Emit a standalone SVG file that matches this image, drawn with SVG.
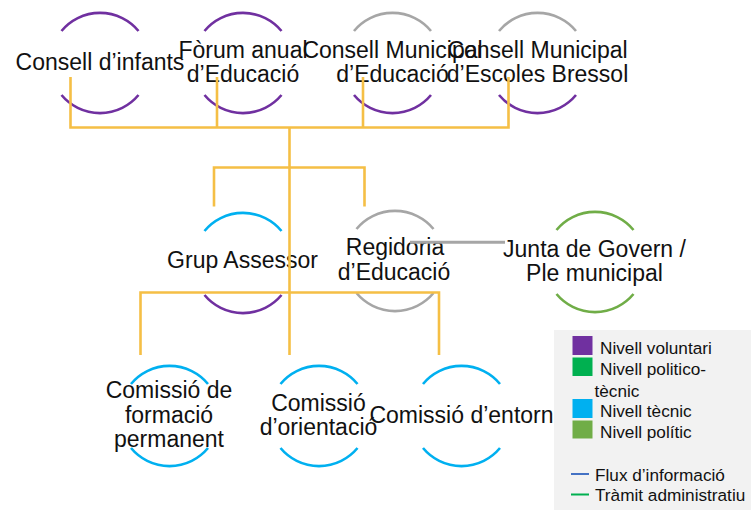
<svg xmlns="http://www.w3.org/2000/svg" width="751" height="510" viewBox="0 0 751 510">
<style>
.arc{fill:none;stroke-width:2.6}
.pu{stroke:#7030A0}.gr{stroke:#A6A6A6}.bl{stroke:#00B0F0}.gn{stroke:#70AD47}
.t{font-family:"Liberation Sans",Arial,sans-serif;font-size:23px;fill:#111;text-anchor:middle}
.lg{font-family:"Liberation Sans",Arial,sans-serif;font-size:17.2px;fill:#111}
.or{fill:none;stroke:#F5BF45;stroke-width:2.6}
</style>
<rect x="554" y="330" width="197" height="180" fill="#F2F2F2"/>
<g id="n-infants">
<path class="arc pu" d="M61.5 31 A50 50 0 0 1 138.5 31"/>
<path class="arc pu" d="M61.5 95 A50 50 0 0 0 138.5 95"/>
<text class="t" x="100" y="70">Consell d’infants</text>
</g>
<g id="n-forum">
<path class="arc pu" d="M204.5 31 A50 50 0 0 1 281.5 31"/>
<path class="arc pu" d="M204.5 95 A50 50 0 0 0 281.5 95"/>
<text class="t" x="243" y="58">Fòrum anual</text>
<text class="t" x="243" y="82">d’Educació</text>
</g>
<g id="n-cme">
<path class="arc gr" d="M354 31 A50 50 0 0 1 431 31"/>
<path class="arc pu" d="M354 95 A50 50 0 0 0 431 95"/>
<text class="t" x="392.5" y="58">Consell Municipal</text>
<text class="t" x="392.5" y="82">d’Educació</text>
</g>
<g id="n-cmeb">
<path class="arc gr" d="M499 31 A50 50 0 0 1 576 31"/>
<path class="arc pu" d="M499 95 A50 50 0 0 0 576 95"/>
<text class="t" x="537.5" y="58">Consell Municipal</text>
<text class="t" x="537.5" y="82">d’Escoles Bressol</text>
</g>
<g id="n-grup">
<path class="arc bl" d="M204.5 231 A50 50 0 0 1 281.5 231"/>
<path class="arc pu" d="M204.5 295 A50 50 0 0 0 281.5 295"/>
<text class="t" x="242.5" y="268">Grup Assessor</text>
</g>
<g id="n-regidoria">
<path class="arc gr" d="M356.5 229 A50 50 0 0 1 433.5 229"/>
<path class="arc gr" d="M356.5 293 A50 50 0 0 0 433.5 293"/>
<text class="t" x="395" y="255">Regidoria</text>
<text class="t" x="394" y="280">d’Educació</text>
</g>
<g id="n-junta">
<path class="arc gn" d="M556.5 230 A50 50 0 0 1 633.5 230"/>
<path class="arc gn" d="M556.5 294 A50 50 0 0 0 633.5 294"/>
<text class="t" x="594.5" y="257">Junta de Govern /</text>
<text class="t" x="594.5" y="281">Ple municipal</text>
</g>
<g id="n-formacio">
<path class="arc bl" d="M131 384 A50 50 0 0 1 208 384"/>
<path class="arc bl" d="M131 448 A50 50 0 0 0 208 448"/>
<text class="t" x="169" y="398">Comissió de</text>
<text class="t" x="169" y="422.5">formació</text>
<text class="t" x="169" y="447">permanent</text>
</g>
<g id="n-orientacio">
<path class="arc bl" d="M280.5 384 A50 50 0 0 1 357.5 384"/>
<path class="arc bl" d="M280.5 448 A50 50 0 0 0 357.5 448"/>
<text class="t" x="318.5" y="410.5">Comissió</text>
<text class="t" x="318.5" y="435">d’orientació</text>
</g>
<g id="n-entorn">
<path class="arc bl" d="M423 384 A50 50 0 0 1 500 384"/>
<path class="arc bl" d="M423 448 A50 50 0 0 0 500 448"/>
<text class="t" x="461.5" y="423">Comissió d’entorn</text>
</g>
<g id="connectors">
<path class="or" d="M70.5 77 V127.5 H508.5 V77 M217 77 V127.5 M363 77 V127.5"/>
<path class="or" d="M289.5 127.5 V355"/>
<path class="or" d="M214 206.5 V167.5 H364.5 V206.5"/>
<path class="or" d="M140.5 355 V292.5 H439 V355"/>
<path d="M410 242.3 H505" stroke="#A6A6A6" stroke-width="3" fill="none"/>
</g>
<g id="legend">
<rect x="572.5" y="336" width="20" height="19" fill="#7030A0"/>
<text class="lg" x="600" y="353.5">Nivell voluntari</text>
<rect x="572.5" y="357.5" width="20" height="18.5" fill="#00B050"/>
<text class="lg" x="600" y="375">Nivell politico-</text>
<text class="lg" x="594.5" y="396.5">tècnic</text>
<rect x="572.5" y="399" width="20" height="19" fill="#00B0F0"/>
<text class="lg" x="600" y="417">Nivell tècnic</text>
<rect x="572.5" y="420.5" width="20" height="18" fill="#70AD47"/>
<text class="lg" x="600" y="438">Nivell polític</text>
<path d="M571 474 H589" stroke="#4472C4" stroke-width="2"/>
<text class="lg" x="595" y="481">Flux d’informació</text>
<path d="M571 494.5 H589" stroke="#00B050" stroke-width="2"/>
<text class="lg" x="595" y="501">Tràmit administratiu</text>
</g>
</svg>
